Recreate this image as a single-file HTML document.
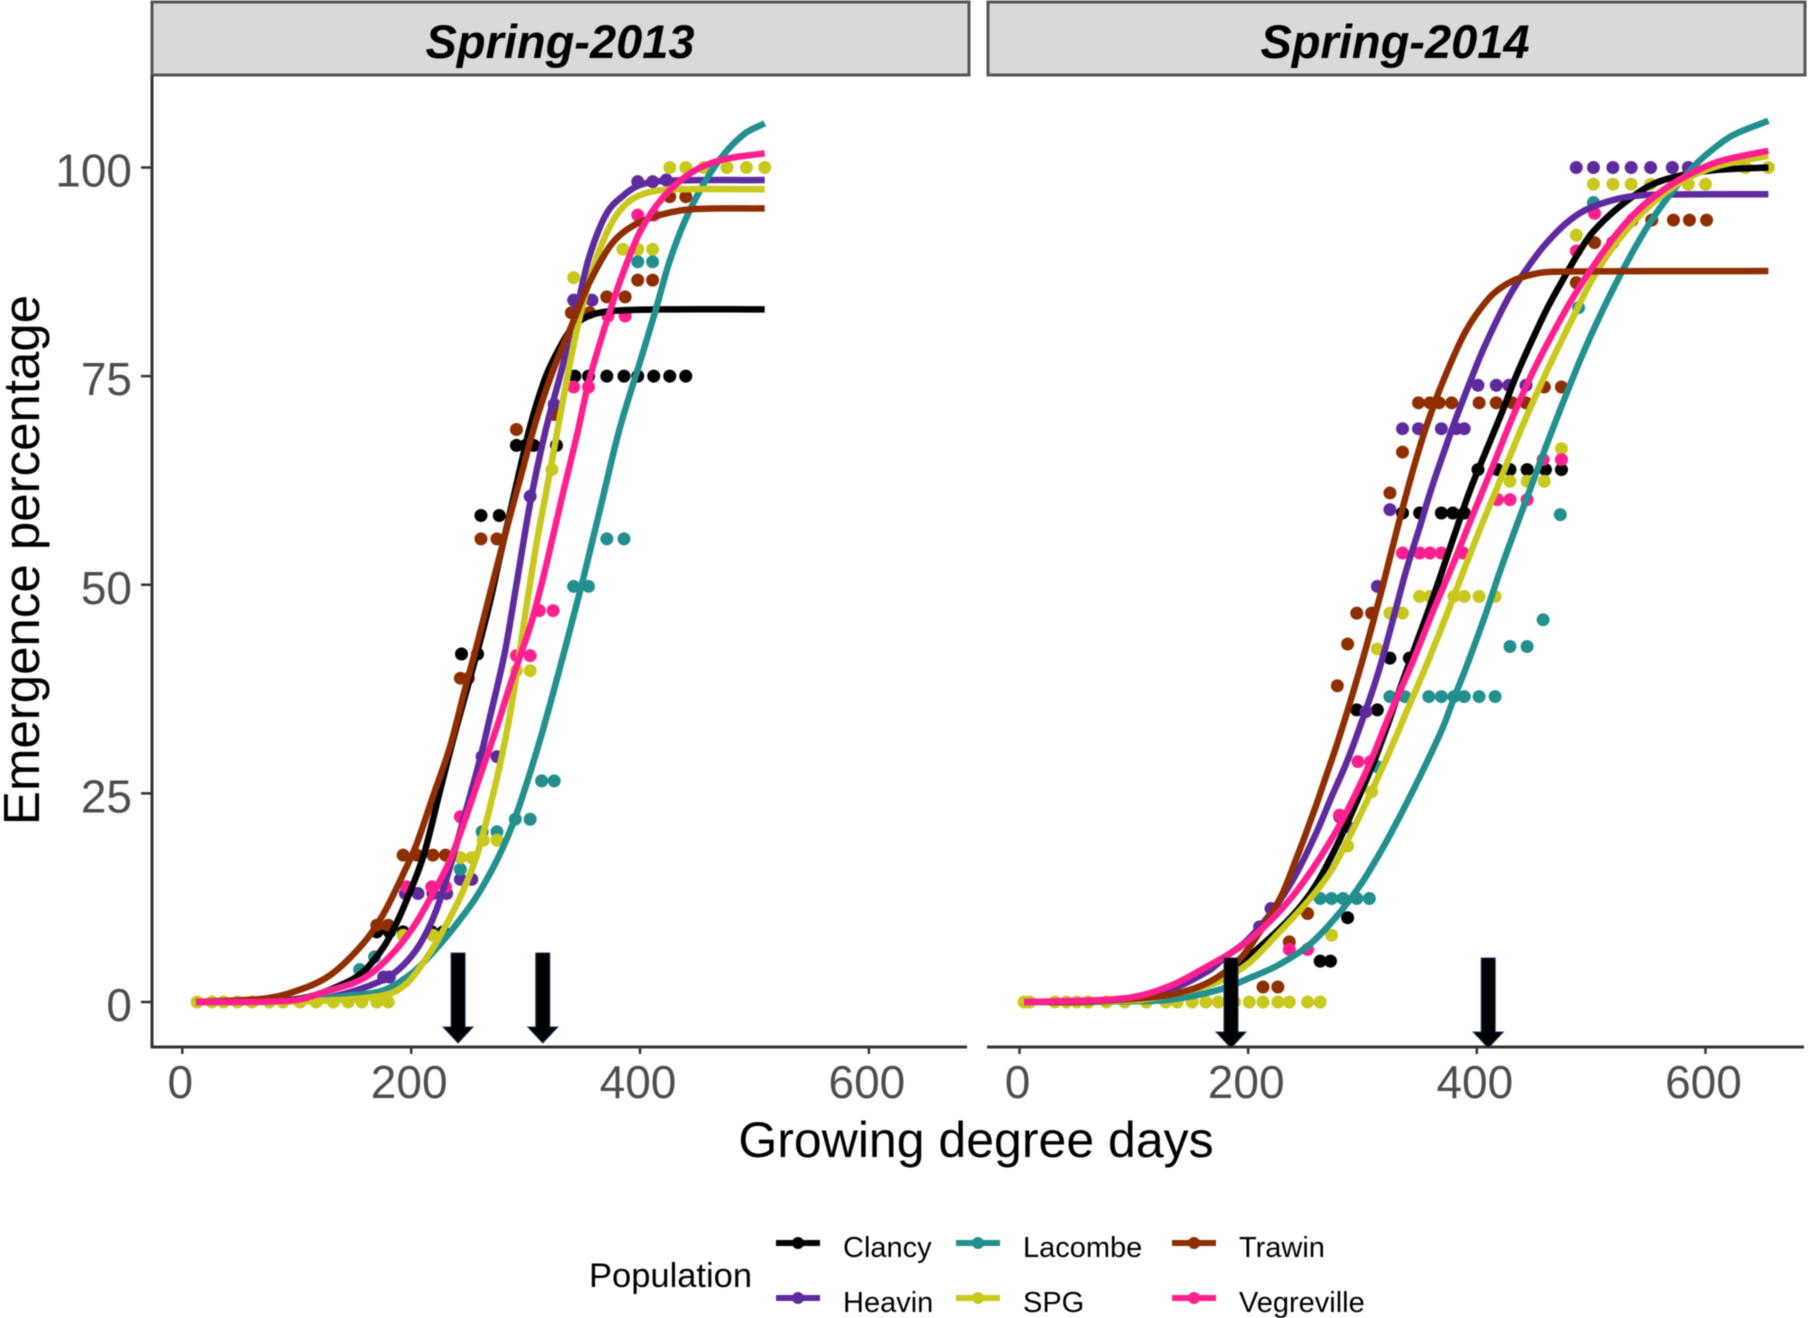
<!DOCTYPE html>
<html lang="en">
<head>
<meta charset="utf-8">
<title>Emergence percentage vs growing degree days</title>
<style>
html,body{margin:0;padding:0;background:#fff;}
svg{display:block;font-family:"Liberation Sans",sans-serif;filter:blur(0.6px);}
</style>
</head>
<body>
<svg id="chart" width="1808" height="1318" viewBox="0 0 1808 1318" xmlns="http://www.w3.org/2000/svg">
  <rect x="152" y="2" width="817" height="73" fill="#d9d9d9" stroke="#555" stroke-width="3"/>
  <rect x="988" y="2" width="817" height="73" fill="#d9d9d9" stroke="#555" stroke-width="3"/>
  <text x="560" y="58" font-size="47" font-weight="bold" font-style="italic" text-anchor="middle" fill="#000">Spring-2013</text>
  <text x="1395" y="58" font-size="47" font-weight="bold" font-style="italic" text-anchor="middle" fill="#000">Spring-2014</text>
  <line x1="152" y1="75" x2="152" y2="1048" stroke="#333" stroke-width="3"/>
  <line x1="151" y1="1047" x2="967" y2="1047" stroke="#333" stroke-width="3"/>
  <line x1="987" y1="1047" x2="1804" y2="1047" stroke="#333" stroke-width="3"/>
  <g id="ticks"></g>
  <g id="marks"></g>
  <g id="arrows"></g>
  <text x="976" y="1157" font-size="50" text-anchor="middle" fill="#000">Growing degree days</text>
  <text transform="translate(39,560) rotate(-90)" font-size="51" text-anchor="middle" fill="#000">Emergence percentage</text>
  <text x="589" y="1287" font-size="34.5" fill="#000">Population</text>
  <g id="legend"></g>
</svg>
<script>
const seriesNames = ["Clancy","Heavin","Lacombe","SPG","Trawin","Vegreville"];
const seriesColors = ["#000000","#5f2a9e","#21908f","#c9c81e","#8f2e00","#ff1f8f"];
const xTickValues = [0,200,400,600];
const yTickValues = [0,25,50,75,100];
const arrows2013 = [241,315];
const arrows2014 = [185,410];

const curve2013Clancy = [[12,0],[80,0.1],[110,0.6],[138,2],[158,3.6],[176,6.6],[187,9.4],[196,12.2],[211,17.6],[225,25.2],[237,31.6],[251,38.6],[259,42.6],[269,48],[277,53],[292,62],[304,69],[317,74.7],[327,77.7],[340,80.7],[355,82.2],[375,82.8],[420,83],[509,83]];
const curve2013Heavin = [[12,0],[90,0.1],[130,0.6],[175,2.6],[193,4.4],[208,7],[222,11],[234,16.2],[248,23],[260,29],[269,34.2],[282,42],[292,50],[304,59.8],[317,68.2],[332,76],[345,83.2],[355,89],[370,94.3],[385,96.6],[400,97.9],[420,98.4],[509,98.5]];
const curve2013Lacombe = [[12,0],[100,0.1],[146,0.8],[176,1.4],[202,3.6],[222,6.4],[240,9.4],[257,12.6],[275,17],[289,21.4],[301,26.2],[313,31.6],[324,37],[333,41.6],[350,50.5],[365,59],[382,68.6],[400,76.7],[413,82.6],[425,88.4],[438,93.2],[453,97.4],[471,101.2],[491,104],[509,105.3]];
const curve2013SPG = [[12,0],[110,0.1],[176,0.8],[196,2.2],[214,5.4],[228,8.6],[243,12.6],[257,17.4],[269,23.4],[281,30.6],[289,36.6],[297,44],[309,54.5],[320,62.6],[332,71.6],[345,80.7],[360,88.3],[375,93.3],[390,95.9],[410,97.1],[440,97.4],[509,97.4]];
const curve2013Trawin = [[12,0],[71,0.4],[97,1.2],[129,3.2],[158,7],[176,10.6],[196,16.2],[205,19],[219,24.6],[234,30.6],[248,38],[256,42],[269,49],[284,57],[297,63.6],[309,69.6],[324,75.7],[340,81],[355,86],[375,90.8],[395,93.1],[420,94.4],[445,95],[509,95.1]];
const curve2013Vegreville = [[12,0],[97,0.2],[129,1.4],[158,2.8],[181,5.4],[202,9],[219,13],[234,17],[248,22.2],[263,28.2],[275,33],[286,37.8],[294,41],[304,45],[312,49],[320,53.5],[332,60.6],[345,68],[355,74.2],[370,81.2],[385,87.3],[400,92.3],[420,96.4],[445,99.4],[471,100.9],[509,101.7]];

const points2013Clancy = [[343,75],[355,75],[371,75],[386,75],[398,75],[412,75],[426,75],[440,75],[292,66.7],[300,66.7],[307,66.7],[327,66.7],[261,58.3],[277,58.3],[244,41.7],[258,41.7],[170,8.4],[181,8.4],[193,8.4],[218,8.4],[228,8.4]];
const points2013Heavin = [[398,98.3],[411,98.3],[423,98.5],[342,84.1],[358,84.1],[325,71.6],[304,60.6],[262,29.4],[275,29.4],[243,14.7],[253,14.7],[195,13],[206,13],[219,13],[231,13],[176,3],[181,3]];
const points2013Lacombe = [[398,88.7],[411,88.7],[371,55.5],[386,55.5],[342,49.8],[355,49.8],[314,26.5],[325,26.5],[291,21.9],[304,21.9],[262,20.4],[275,20.4],[243,15.9],[168,5.4],[155,3.9]];
const points2013SPG = [[13,0],[26,0],[36,0],[48,0],[61,0],[76,0],[88,0],[103,0],[117,0],[132,0],[145,0],[157,0],[170,0],[180,0],[426,100],[440,100],[456,100],[476,100],[493,100],[509,100],[385,90.2],[398,90.2],[411,90.2],[342,86.8],[323,63.8],[304,39.7],[292,39.7],[275,19.4],[263,19.4],[243,17.3],[253,17.3],[193,8],[219,8],[225,7.6]];
const points2013Trawin = [[426,96.5],[440,96.5],[398,86.5],[411,86.5],[371,84.5],[387,84.5],[340,82.6],[356,82.6],[292,68.6],[325,70.4],[261,55.5],[275,55.5],[243,38.8],[250,38.8],[193,17.6],[205,17.6],[219,17.6],[230,17.6],[170,9.2],[180,9.2]];
const points2013Vegreville = [[398,94.3],[412,94.3],[372,82.2],[387,82.2],[342,73.7],[355,73.7],[312,46.9],[324,46.9],[292,41.5],[304,41.5],[243,22.2],[218,13.8],[230,13.8],[196,13.8]];

const curve2014Clancy = [[4,0],[80,0.1],[133,0.8],[166,2.2],[196,5],[220,7.8],[243,11],[260,14.2],[277,18.6],[293,23.4],[310,28.8],[323,33.6],[333,37.6],[344,41.8],[361,48.2],[373,53],[388,59],[396,62],[411,67],[423,71],[434,74.9],[449,79.5],[463,83.5],[478,87.2],[490,90],[501,92.2],[522,95],[551,97.8],[580,99.1],[609,99.7],[655,100]];
const curve2014Heavin = [[4,0],[80,0.2],[133,1.6],[166,3.8],[180,5.4],[196,7],[210,9],[226,11.8],[243,15.6],[260,20.4],[273,24.6],[287,29],[303,35],[315,40],[327,46],[338,51.6],[350,56.9],[361,61.8],[373,66.6],[382,70],[394,74.3],[405,78],[420,82.4],[431,85.2],[446,88.3],[460,90.8],[478,93.3],[495,94.9],[522,96.2],[548,96.7],[655,96.8]];
const curve2014Lacombe = [[4,0],[100,0.1],[133,0.3],[173,1.4],[200,2.8],[226,4.4],[253,6.8],[277,10.2],[300,14.4],[320,19],[337,23.4],[353,27.8],[370,32.8],[380,36.4],[391,40.2],[408,46.6],[420,51.5],[434,56.8],[449,62.3],[460,66.4],[469,69.6],[484,74.8],[495,78.4],[508,82.3],[522,86.2],[536,89.8],[551,93.3],[568,96.6],[586,99.6],[603,101.8],[623,103.8],[655,105.6]];
const curve2014SPG = [[4,0],[100,0.2],[133,0.9],[173,2.4],[200,4.6],[226,8.2],[253,12.2],[273,15.8],[290,20.2],[307,25],[323,29.8],[338,34.6],[356,40.4],[373,46.2],[388,51.5],[402,56.4],[417,61.4],[431,66.1],[443,70],[463,76.1],[484,82],[501,86.6],[522,91],[551,95.4],[580,98.4],[609,100.1],[655,101.4]];
const curve2014Trawin = [[4,0],[60,0.1],[100,0.4],[133,0.9],[166,2.4],[193,5.2],[213,9],[230,13],[243,17.5],[250,20],[260,23.8],[268,27],[277,30.6],[286,34.5],[298,40],[309,45.4],[318,50],[330,56.5],[341,62.2],[353,67.8],[360,70.6],[367,73.2],[376,76.2],[388,79.8],[399,82.3],[414,84.8],[431,86.4],[449,87.2],[466,87.5],[655,87.6]];
const curve2014Vegreville = [[4,0],[66,0.2],[100,0.6],[133,2],[166,4.4],[193,6.6],[220,9.8],[243,13.4],[267,18.2],[287,23],[307,28.8],[323,34.2],[344,40.8],[361,46.6],[379,52.4],[396,58.2],[414,64.2],[431,70],[449,75.5],[466,80],[484,84.4],[501,88],[522,92],[542,95],[565,97.5],[586,99.2],[609,100.6],[629,101.3],[655,102]];

const points2014Clancy = [[401,63.8],[418,63.8],[429,63.8],[444,63.8],[460,63.8],[474,63.8],[335,58.6],[350,58.6],[369,58.6],[379,58.6],[389,58.6],[324,41.2],[341,41.2],[295,35],[313,35],[287,10.1],[263,4.9],[272,4.9]];
const points2014Heavin = [[487,100],[502,100],[519,100],[535,100],[552,100],[571,100],[585,100],[401,73.9],[417,73.9],[428,73.9],[443,73.9],[335,68.7],[349,68.7],[369,68.7],[382,68.7],[389,68.7],[324,59],[313,49.8],[303,34.8],[280,22.2],[287,21],[220,11.2],[210,9]];
const points2014Lacombe = [[502,95.8],[489,83.2],[473,58.4],[458,45.8],[429,42.6],[444,42.6],[324,36.6],[337,36.6],[358,36.6],[369,36.6],[380,36.6],[389,36.6],[402,36.6],[416,36.6],[313,28.2],[263,12.4],[273,12.4],[283,12.4],[295,12.4],[306,12.4]];
const points2014SPG = [[635,100],[655,100],[502,98],[519,98],[535,98],[552,98],[585,98],[600,98],[487,91.9],[474,66.3],[429,62.4],[444,62.4],[459,62.4],[350,48.6],[359,48.6],[380,48.6],[389,48.6],[402,48.6],[416,48.6],[324,46.6],[335,46.6],[313,42.3],[308,25.2],[287,18.7],[273,8],[4,0],[9,0],[31,0],[41,0],[50,0],[60,0],[76,0],[92,0],[111,0],[128,0],[138,0],[151,0],[163,0],[174,0],[188,0],[201,0],[213,0],[226,0],[236,0],[252,0],[263,0]];
const points2014Trawin = [[536,93.7],[553,93.7],[572,93.7],[586,93.7],[601,93.7],[503,91],[519,91],[487,86.2],[459,73.7],[474,73.7],[349,71.8],[359,71.8],[367,71.8],[378,71.8],[402,71.8],[417,71.8],[431,71.8],[443,71.8],[335,65.9],[324,61],[295,46.6],[308,46.6],[287,42.9],[278,37.9],[252,10.6],[236,7.2],[213,1.8],[226,1.8]];
const points2014Vegreville = [[503,94.5],[487,90],[458,65],[474,65],[418,60.2],[429,60.2],[444,60.2],[335,53.8],[350,53.8],[359,53.8],[369,53.8],[388,53.8],[296,28.8],[307,28.8],[280,22.4],[236,6.3],[252,6.3]];

const curves2013 = [curve2013Clancy,curve2013Heavin,curve2013Lacombe,curve2013SPG,curve2013Trawin,curve2013Vegreville];
const curves2014 = [curve2014Clancy,curve2014Heavin,curve2014Lacombe,curve2014SPG,curve2014Trawin,curve2014Vegreville];
const points2013 = [points2013Clancy,points2013Heavin,points2013Lacombe,points2013SPG,points2013Trawin,points2013Vegreville];
const points2014 = [points2014Clancy,points2014Heavin,points2014Lacombe,points2014SPG,points2014Trawin,points2014Vegreville];

const NS = "http://www.w3.org/2000/svg";
function make(tag, parent) { const el = document.createElementNS(NS, tag); parent.appendChild(el); return el; }
function xScale2013(v) { return 182.3 + v * 1.1443; }
function xScale2014(v) { return 1019.5 + v * 1.1433; }
function yScale(v) { return 1002 - v * 8.345; }

function smoothPath(data, xs) {
  const p = data.map(function (d) { return [xs(d[0]), yScale(d[1])]; });
  const n = p.length;
  const slope = p.map(function (q, i) {
    const a = p[Math.max(i - 1, 0)];
    const b = p[Math.min(i + 1, n - 1)];
    return (b[1] - a[1]) / (b[0] - a[0]);
  });
  let s = "M" + p[0][0].toFixed(1) + " " + p[0][1].toFixed(1);
  for (let i = 0; i < n - 1; i++) {
    const dx = (p[i + 1][0] - p[i][0]) / 3;
    s += "C" + (p[i][0] + dx).toFixed(1) + " " + (p[i][1] + slope[i] * dx).toFixed(1) + " " +
      (p[i + 1][0] - dx).toFixed(1) + " " + (p[i + 1][1] - slope[i + 1] * dx).toFixed(1) + " " +
      p[i + 1][0].toFixed(1) + " " + p[i + 1][1].toFixed(1);
  }
  return s;
}

const ticksLayer = document.getElementById("ticks");
const marksLayer = document.getElementById("marks");
const arrowsLayer = document.getElementById("arrows");
const legendLayer = document.getElementById("legend");

yTickValues.forEach(function (v) {
  const t = make("line", ticksLayer);
  
  
  t.setAttribute("x1", 141); t.setAttribute("x2", 152);
  t.setAttribute("y1", yScale(v)); t.setAttribute("y2", yScale(v));
  t.setAttribute("stroke", "#333"); t.setAttribute("stroke-width", 2.5);
  const l = make("text", ticksLayer);
  
  
  l.setAttribute("x", 132); l.setAttribute("y", yScale(v) + 19);
  l.setAttribute("text-anchor", "end"); l.setAttribute("font-size", 46); l.setAttribute("fill", "#4d4d4d");
  l.textContent = String(v);
});

[xScale2013, xScale2014].forEach(function (xs) {
  xTickValues.forEach(function (v) {
    const t = make("line", ticksLayer);
    
    
    t.setAttribute("x1", xs(v)); t.setAttribute("x2", xs(v));
    t.setAttribute("y1", 1047); t.setAttribute("y2", 1054);
    t.setAttribute("stroke", "#333"); t.setAttribute("stroke-width", 2.5);
    const l = make("text", ticksLayer);
    
    
    l.setAttribute("x", xs(v) - 2); l.setAttribute("y", 1098);
    l.setAttribute("text-anchor", "middle"); l.setAttribute("font-size", 46); l.setAttribute("fill", "#4d4d4d");
    l.textContent = String(v);
  });
});

function drawPanel(curves, points, xs) {
  points.forEach(function (series, i) {
    series.forEach(function (d) {
      const c = make("circle", marksLayer);
      
      
      c.setAttribute("cx", xs(d[0]));
      c.setAttribute("cy", yScale(d[1]));
      c.setAttribute("r", 6.5);
      c.setAttribute("fill", seriesColors[i]);
    });
  });
  curves.forEach(function (series, i) {
    const p = make("path", marksLayer);
    
    
    p.setAttribute("d", smoothPath(series, xs));
    p.setAttribute("fill", "none");
    p.setAttribute("stroke", seriesColors[i]);
    p.setAttribute("stroke-width", 6.5);
    p.setAttribute("stroke-linejoin", "round");
  });
}
drawPanel(curves2013, points2013, xScale2013);
drawPanel(curves2014, points2014, xScale2014);

function drawArrow(gdd, xs, topY) {
  const x = xs(gdd);
  const a = make("polygon", arrowsLayer);
  
  
  const pts = [[x-7,topY],[x+7,topY],[x+7,topY+74],[x+15,topY+74],[x,topY+90],[x-15,topY+74],[x-7,topY+74]];
  a.setAttribute("points", pts.map(function (q) { return q.join(","); }).join(" "));
  a.setAttribute("fill", "#000");
  a.setAttribute("stroke", "#1f3864");
  a.setAttribute("stroke-width", 1);
}
arrows2013.forEach(function (g) { drawArrow(g, xScale2013, 953); });
arrows2014.forEach(function (g) { drawArrow(g, xScale2014, 958); });

const legendColumns = [776, 956, 1172];
const legendRows = [1243, 1298];
seriesNames.forEach(function (name, i) {
  const col = Math.floor(i / 2);
  const row = i % 2;
  const x0 = legendColumns[col];
  const y0 = legendRows[row];
  const ln = make("line", legendLayer);
  
  
  ln.setAttribute("x1", x0); ln.setAttribute("x2", x0 + 44);
  ln.setAttribute("y1", y0); ln.setAttribute("y2", y0);
  ln.setAttribute("stroke", seriesColors[i]); ln.setAttribute("stroke-width", 6);
  const dot = make("circle", legendLayer);
  
  
  dot.setAttribute("cx", x0 + 22); dot.setAttribute("cy", y0); dot.setAttribute("r", 6);
  dot.setAttribute("fill", seriesColors[i]);
  const tx = make("text", legendLayer);
  
  
  tx.setAttribute("x", x0 + 67); tx.setAttribute("y", y0 + 14);
  tx.setAttribute("font-size", 29); tx.setAttribute("fill", "#000");
  tx.textContent = name;
});
</script>
</body>
</html>
